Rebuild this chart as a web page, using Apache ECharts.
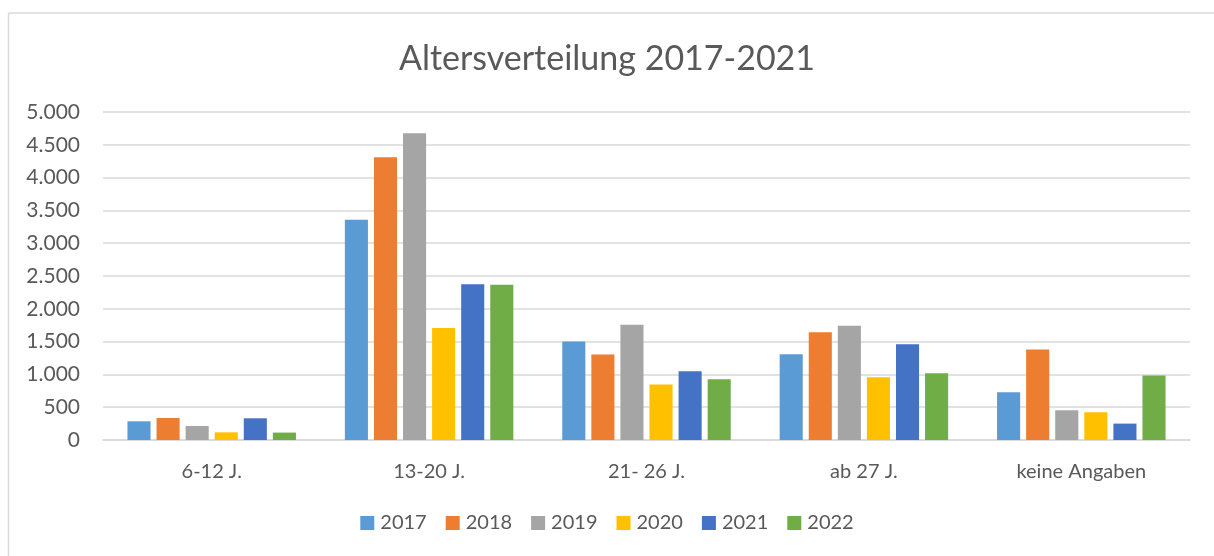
<!DOCTYPE html>
<html>
<head>
<meta charset="utf-8">
<script src="https://cdn.jsdelivr.net/npm/echarts@6/dist/echarts.min.js"></script>
<style>html,body{margin:0;padding:0;background:#fff;}#c{width:1214px;height:556px;}</style>
</head>
<body>
<div id="c"></div>
<script>
const categories = ['6-12 J.', '13-20 J.', '21- 26 J.', 'ab 27 J.', 'keine Angaben'];
const seriesNames = ['2017', '2018', '2019', '2020', '2021', '2022'];
const v2017 = [285, 3357, 1501, 1308, 728];
const v2018 = [336, 4309, 1303, 1643, 1379];
const v2019 = [214, 4675, 1755, 1740, 453];
const v2020 = [117, 1709, 845, 957, 423];
const v2021 = [331, 2376, 1048, 1460, 250];
const v2022 = [113, 2365, 926, 1018, 982];
const values = [v2017, v2018, v2019, v2020, v2021, v2022];
const colors = ['#5B9BD5', '#ED7D31', '#A5A5A5', '#FFC000', '#4472C4', '#70AD47'];

const font = 'Lato, "Open Sans", sans-serif';
function deFormat(v) {
  return String(Math.round(v)).replace(/\B(?=(\d{3})+(?!\d))/g, '.');
}
const chart = echarts.init(document.getElementById('c'), null, {renderer: 'canvas'});
chart.setOption({
  animation: false,
  backgroundColor: '#fff',
  title: {
    text: 'Altersverteilung 2017-2021',
    left: 'center',
    top: 37,
    textStyle: {fontFamily: font, fontSize: 34, fontWeight: 'normal', color: '#595959'}
  },
  legend: {
    data: seriesNames,
    bottom: 18,
    left: 'center',
    itemWidth: 14,
    itemHeight: 14,
    itemGap: 19,
    icon: 'rect',
    textStyle: {fontFamily: font, fontSize: 20, color: '#595959', padding: [0, 0, 0, 1]}
  },
  grid: {left: 103, right: 24, top: 112, bottom: 116, containLabel: false},
  xAxis: {
    type: 'category',
    data: categories,
    axisLine: {lineStyle: {color: '#D9D9D9', width: 1.5}},
    axisTick: {show: false},
    axisLabel: {fontFamily: font, fontSize: 20, color: '#595959', margin: 22}
  },
  yAxis: {
    type: 'value',
    min: 0,
    max: 5000,
    interval: 500,
    axisLine: {show: false},
    axisTick: {show: false},
    splitLine: {lineStyle: {color: '#D9D9D9', width: 1.5}},
    axisLabel: {
      fontFamily: font, fontSize: 21, color: '#595959', margin: 23,
      formatter: deFormat
    }
  },
  graphic: [
    {type: 'line', shape: {x1: 8.5, y1: 13, x2: 1214, y2: 13}, style: {stroke: '#D9D9D9', lineWidth: 1.5}},
    {type: 'line', shape: {x1: 8.5, y1: 13, x2: 8.5, y2: 556}, style: {stroke: '#D9D9D9', lineWidth: 1.5}}
  ],
  series: seriesNames.map((n, i) => ({
    name: n,
    type: 'bar',
    data: values[i],
    barGap: '26%',
    barCategoryGap: '22.5%',
    itemStyle: {color: colors[i]}
  }))
});
</script>
</body>
</html>
